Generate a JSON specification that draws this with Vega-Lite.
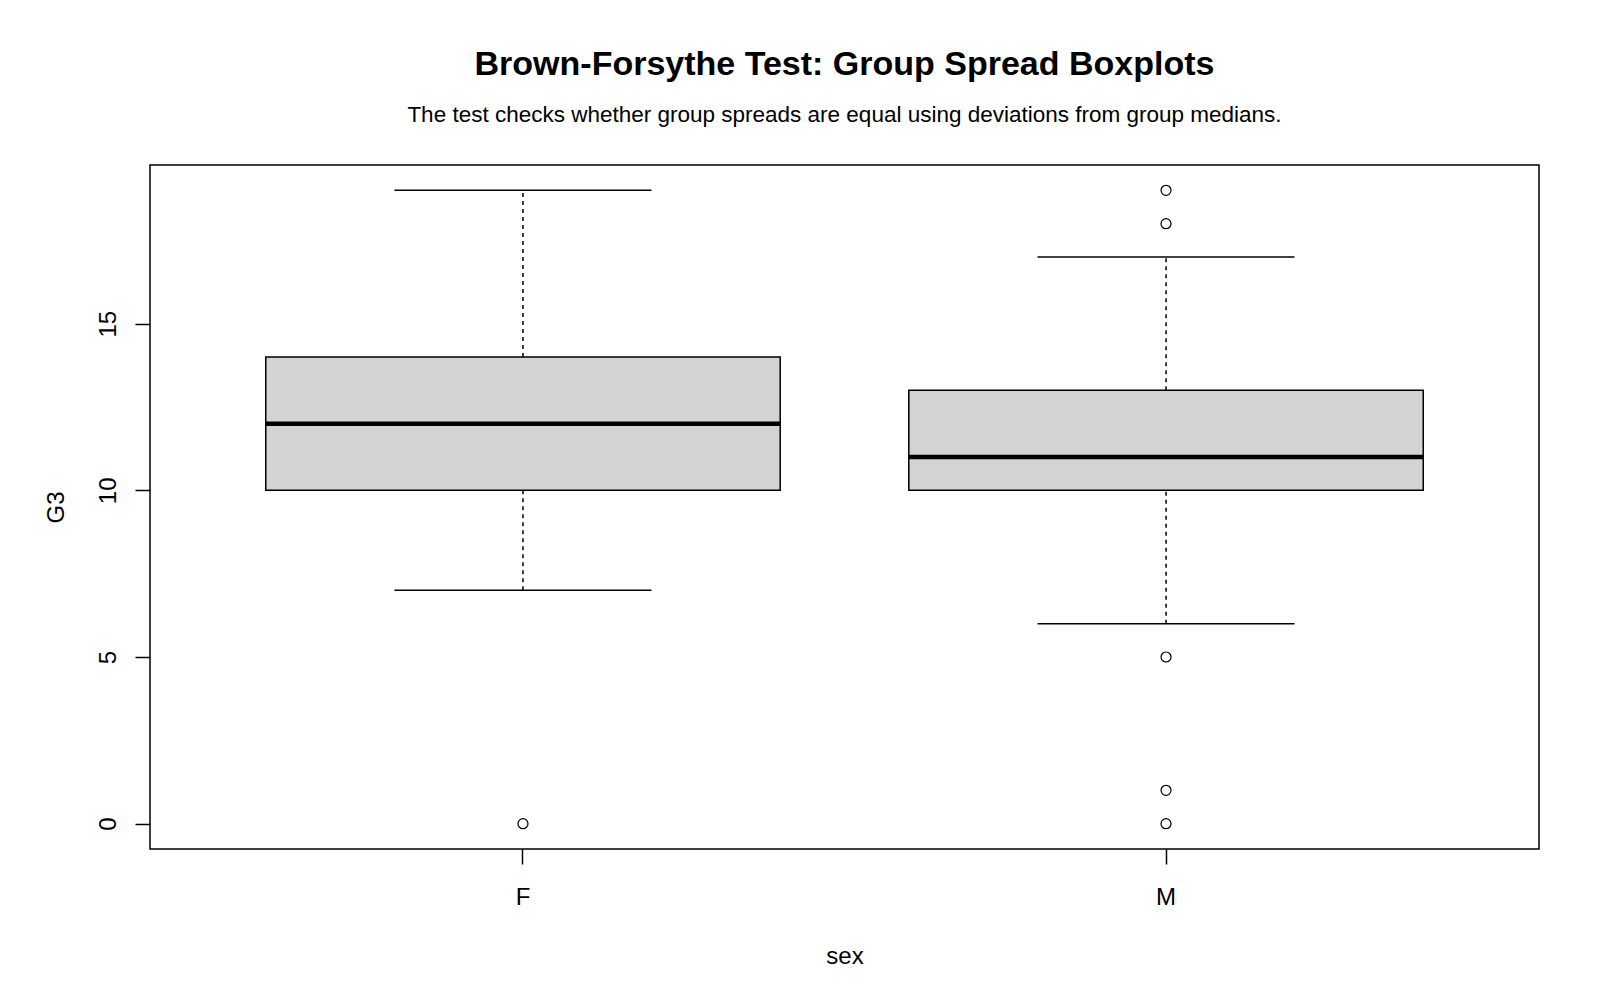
{
  "$schema": "https://vega.github.io/schema/vega-lite/v6.json",
  "autosize": "none",
  "width": 1389,
  "height": 684,
  "padding": {"left": 150, "top": 165, "right": 61, "bottom": 151},
  "background": "white",
  "title": {
    "text": "Brown-Forsythe Test: Group Spread Boxplots",
    "subtitle": "The test checks whether group spreads are equal using deviations from group medians.",
    "anchor": "middle",
    "frame": "group",
    "baseline": "top",
    "font": "Liberation Sans",
    "subtitleFont": "Liberation Sans",
    "fontSize": 34,
    "subtitleFontSize": 22.5,
    "fontWeight": "bold",
    "subtitleFontWeight": "normal",
    "color": "black",
    "subtitleColor": "black",
    "subtitlePadding": 21.9,
    "offset": 38.3
  },
  "datasets": {
    "summary": [
      {"sex": "F", "lower": 7, "q1": 10, "median": 12, "q3": 14, "upper": 19},
      {"sex": "M", "lower": 6, "q1": 10, "median": 11, "q3": 13, "upper": 17}
    ],
    "outliers": [
      {"sex": "F", "G3": 0},
      {"sex": "M", "G3": 19},
      {"sex": "M", "G3": 18},
      {"sex": "M", "G3": 5},
      {"sex": "M", "G3": 1},
      {"sex": "M", "G3": 0}
    ]
  },
  "layer": [
    {
      "data": {"name": "summary"},
      "mark": {"type": "rule", "color": "black", "strokeWidth": 1.5, "strokeDash": [4, 4], "opacity": 1},
      "encoding": {
        "x": {"field": "sex", "type": "nominal", "title": "sex", "scale": {"type": "band", "domain": ["F", "M"], "paddingInner": 0.2, "paddingOuter": 0.18}},
        "y": {"field": "q3", "type": "quantitative", "title": "G3", "scale": {"domain": [-0.76, 19.76], "nice": false, "zero": false}, "axis": {"values": [0, 5, 10, 15]}},
        "y2": {"field": "upper"}
      }
    },
    {
      "data": {"name": "summary"},
      "mark": {"type": "rule", "color": "black", "strokeWidth": 1.5, "strokeDash": [4, 4], "opacity": 1},
      "encoding": {
        "x": {"field": "sex", "type": "nominal", "title": "sex"},
        "y": {"field": "lower", "type": "quantitative", "title": "G3"},
        "y2": {"field": "q1"}
      }
    },
    {
      "data": {"name": "summary"},
      "mark": {"type": "tick", "color": "black", "size": 257, "thickness": 1.5, "orient": "horizontal", "opacity": 1},
      "encoding": {
        "x": {"field": "sex", "type": "nominal", "title": "sex"},
        "y": {"field": "upper", "type": "quantitative", "title": "G3"}
      }
    },
    {
      "data": {"name": "summary"},
      "mark": {"type": "tick", "color": "black", "size": 257, "thickness": 1.5, "orient": "horizontal", "opacity": 1},
      "encoding": {
        "x": {"field": "sex", "type": "nominal", "title": "sex"},
        "y": {"field": "lower", "type": "quantitative", "title": "G3"}
      }
    },
    {
      "data": {"name": "summary"},
      "mark": {"type": "bar", "fill": "#D3D3D3", "stroke": "black", "strokeWidth": 1.5, "opacity": 1},
      "encoding": {
        "x": {"field": "sex", "type": "nominal", "title": "sex"},
        "y": {"field": "q3", "type": "quantitative", "title": "G3"},
        "y2": {"field": "q1"}
      }
    },
    {
      "data": {"name": "summary"},
      "mark": {"type": "tick", "color": "black", "size": 514, "thickness": 4.5, "orient": "horizontal", "opacity": 1},
      "encoding": {
        "x": {"field": "sex", "type": "nominal", "title": "sex"},
        "y": {"field": "median", "type": "quantitative", "title": "G3"}
      }
    },
    {
      "data": {"name": "outliers"},
      "mark": {"type": "point", "shape": "circle", "filled": false, "stroke": "black", "strokeWidth": 1.2, "size": 100, "opacity": 1},
      "encoding": {
        "x": {"field": "sex", "type": "nominal", "title": "sex"},
        "y": {"field": "G3", "type": "quantitative", "title": "G3"}
      }
    }
  ],
  "config": {
    "view": {"stroke": "black", "strokeWidth": 1.5},
    "font": "Liberation Sans",
    "axis": {
      "domain": false,
      "grid": false,
      "tickColor": "black",
      "tickWidth": 1.5,
      "tickSize": 15,
      "labelColor": "black",
      "titleColor": "black",
      "labelFont": "Liberation Sans",
      "titleFont": "Liberation Sans",
      "labelFontSize": 24,
      "titleFontSize": 24,
      "titleFontWeight": "normal",
      "labelOverlap": false,
      "labelFlush": false
    },
    "axisX": {
      "labelAngle": 0,
      "labelAlign": "center",
      "labelBaseline": "alphabetic",
      "labelPadding": 40,
      "titleX": 694.5,
      "titleY": 114,
      "titleAlign": "center",
      "titleBaseline": "alphabetic"
    },
    "axisY": {
      "labelAngle": 270,
      "labelAlign": "center",
      "labelBaseline": "alphabetic",
      "labelPadding": 20,
      "titleAngle": 270,
      "titleX": -87,
      "titleY": 342,
      "titleAlign": "center",
      "titleBaseline": "alphabetic"
    }
  }
}
